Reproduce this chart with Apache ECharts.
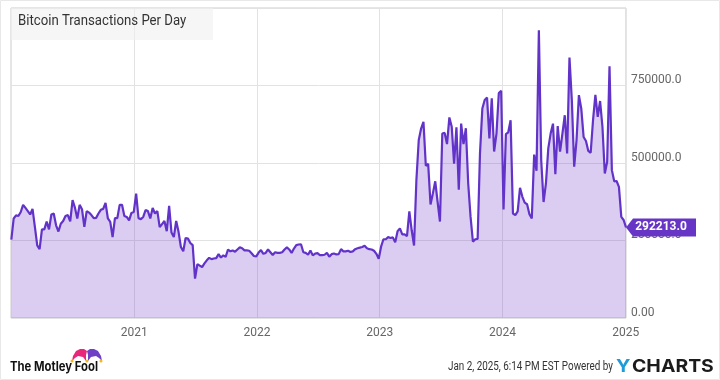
<!DOCTYPE html>
<html>
<head>
<meta charset="utf-8">
<title>Bitcoin Transactions Per Day</title>
<script src="https://cdn.jsdelivr.net/npm/echarts@6/dist/echarts.min.js"></script>
<style>
html, body { margin: 0; padding: 0; background: #fff; }
#chart { width: 720px; height: 380px; }
</style>
</head>
<body>
<div id="chart"></div>
<script>
// weekly readings, first one on 2020-01-02, last on 2025-01-02
const startDate = '2020-01-02'
const values2020 = [253000, 321000, 331000, 329000, 342000, 365000, 355000, 345000, 334000, 352000,
  294000, 234000, 222000, 286000, 286000, 311000, 286000, 334000, 337000, 299000,
  279000, 304000, 313000, 329000, 332000, 312000, 380000, 356000, 321000, 365000,
  351000, 294000, 345000, 340000, 332000, 322000, 323000, 337000, 349000, 352000,
  371000, 321000, 310000, 261000, 322000, 322000, 365000, 365000, 329000, 326000,
  315000, 339000, 342000]
const values2021 = [401000, 322000, 319000, 326000, 348000, 345000, 321000,
  355000, 337000, 345000, 293000, 303000, 313000, 280000, 362000, 276000, 261000,
  313000, 278000, 229000, 215000, 258000, 256000, 242000, 235000, 127000, 174000,
  169000, 164000, 176000, 186000, 194000, 190000, 192000, 193000, 206000, 195000,
  202000, 197000, 221000, 215000, 218000, 214000, 221000, 228000]
const values2022 = [225000, 218000, 218000, 217000, 209000, 200000, 199000, 211000, 219000, 207000,
  210000, 221000, 212000, 203000, 212000, 210000, 210000, 212000, 221000, 228000,
  221000, 210000, 224000, 235000, 237000, 238000, 212000, 210000, 204000, 218000,
  202000, 208000, 209000, 203000, 203000, 204000, 210000, 198000, 206000, 208000,
  205000, 206000, 222000, 215000, 215000, 217000, 213000, 215000, 222000, 225000,
  227000, 229000, 233000, 225000, 222000, 221000, 217000, 207000, 191000]
const values2023 = [230000, 254000, 254000, 261000, 258000, 260000, 244000, 280000, 289000, 270000,
  270000, 264000, 344000, 283000, 234000, 445000, 574000, 611000, 633000, 491000,
  497000, 366000, 402000, 441000, 375000, 311000, 595000, 597000, 561000, 647000,
  617000, 498000, 615000, 414000, 627000, 561000, 612000, 434000, 326000, 246000,
  254000, 255000, 531000, 676000, 703000, 711000, 579000, 709000, 537000, 595000, 726000]
const values2024 = [733000, 350000, 593000, 599000, 638000, 337000, 332000, 344000, 420000, 391000,
  372000, 367000, 335000, 321000, 527000, 475000, 928000, 509000, 374000, 434000,
  547000, 595000, 627000, 464000, 619000, 537000, 595000, 654000, 531000, 840000,
  703000, 488000, 574000, 719000, 676000, 584000, 571000, 539000, 533000, 638000,
  720000, 649000, 700000, 617000, 466000, 504000, 812000, 477000, 441000, 442000,
  423000, 326000, 316000, 292213]
const yearTicks = ['2021-01-01', '2022-01-01', '2023-01-01', '2024-01-01', '2025-01-01']
const valueTicks = [0, 250000, 500000, 750000, 1000000]

const values = [...values2020, ...values2021, ...values2022, ...values2023, ...values2024]

const toTime = d => new Date(d + 'T00:00:00Z').getTime()

// 每周一个点
const seriesData = values.map((v, i) => [toTime(startDate) + i * 7 * 86400000, v])
const last = seriesData[seriesData.length - 1]
const yearTimes = yearTicks.map(toTime)

const myChart = echarts.init(document.getElementById('chart'))

const options = {
  animation: false,
  grid: {
    left: 11,
    right: 94,
    top: 8,
    bottom: 62,
    show: true,
    borderColor: '#cccccc',
    borderWidth: 1
  },
  xAxis: {
    type: 'value',
    min: toTime('2020-01-01'),
    max: last[0],
    axisLine: { show: false },
    axisTick: { show: false, customValues: yearTimes },
    axisLabel: {
      customValues: yearTimes,
      formatter: value => String(new Date(value).getUTCFullYear()),
      hideOverlap: false,
      showMinLabel: true,
      showMaxLabel: true,
      color: '#666666',
      fontFamily: 'Roboto',
      fontSize: 12,
      margin: 9
    },
    splitLine: { show: true, lineStyle: { color: '#e2e2e2', width: 1 } }
  },
  yAxis: {
    type: 'value',
    position: 'right',
    min: 0,
    max: valueTicks[valueTicks.length - 1],
    interval: valueTicks[1],
    axisLine: { show: false },
    axisTick: { show: false },
    axisLabel: {
      formatter: value => {
        if (value === 0) return '0.00'
        if (value >= 1000000) return ''
        return value.toFixed(1)
      },
      color: '#666666',
      fontFamily: 'Roboto',
      fontSize: 12,
      margin: 5,
      verticalAlign: 'bottom',
      lineHeight: 11
    },
    splitLine: { show: true, lineStyle: { color: '#e2e2e2', width: 1 } }
  },
  series: [
    {
      type: 'line',
      data: seriesData,
      showSymbol: false,
      clip: false,
      lineStyle: { color: '#6233c8', width: 2.2 },
      areaStyle: { color: '#6a30c8', opacity: 0.24 },
      z: 3,
      markPoint: {
        silent: true,
        animation: false,
        symbol: 'path://M0 9L7 0H70V18H7Z',
        symbolSize: [70, 18],
        symbolOffset: [35, 0],
        itemStyle: { color: '#6635c6' },
        label: {
          show: true,
          position: 'inside',
          offset: [0, 0],
          formatter: p => p.value.toFixed(1),
          color: '#ffffff',
          fontFamily: 'Roboto',
          fontWeight: 'bold',
          fontSize: 12
        },
        data: [{ coord: last, value: last[1] }]
      }
    }
  ],
  graphic: [
    // 外框
    { type: 'rect', silent: true, shape: { x: 0.5, y: 0.5, width: 719, height: 379 }, style: { fill: 'none', stroke: '#e8e8e8', lineWidth: 1 }, z: 0 },
    // 标题
    { type: 'rect', silent: true, shape: { x: 11, y: 8, width: 202, height: 32 }, style: { fill: 'rgba(240,240,240,0.6)' }, z: 10 },
    { type: 'text', silent: true, x: 18, y: 21.5, scaleX: 0.88, style: { text: 'Bitcoin Transactions Per Day', fill: '#333333', font: '15px Roboto', textVerticalAlign: 'middle' }, z: 11 },
    // Motley Fool
    { type: 'text', silent: true, x: 10, y: 367, scaleX: 0.87, style: { text: 'The Motley Fool', fill: '#111111', font: 'bold 13px Inter', textVerticalAlign: 'middle' }, z: 11 },
    { type: 'polygon', silent: true, shape: { points: [[72, 361], [73, 356], [76, 351], [80, 349], [84, 349], [87, 351], [86, 355], [86, 361], [83, 357], [78, 356], [75, 358]] }, style: { fill: '#e8277b' }, z: 11 },
    { type: 'polygon', silent: true, shape: { points: [[102, 361], [101, 356], [98, 351], [94, 349], [90, 349], [87, 351], [88, 355], [88, 361], [91, 357], [96, 356], [99, 358]] }, style: { fill: '#6f3fc6' }, z: 11 },
    { type: 'circle', silent: true, shape: { cx: 72, cy: 361, r: 1.5 }, style: { fill: '#f4b71f' }, z: 11 },
    { type: 'circle', silent: true, shape: { cx: 87, cy: 361, r: 1.5 }, style: { fill: '#f4b71f' }, z: 11 },
    { type: 'circle', silent: true, shape: { cx: 101, cy: 361, r: 1.5 }, style: { fill: '#f4b71f' }, z: 11 },
    // 页脚
    { type: 'text', silent: true, x: 613, y: 367, scaleX: 0.79, style: { text: 'Jan 2, 2025, 6:14 PM EST Powered by', fill: '#333333', font: '12.5px Roboto', textAlign: 'right', textVerticalAlign: 'middle' }, z: 11 },
    { type: 'text', silent: true, x: 616, y: 367, scaleX: 1.1, style: { text: 'Y', fill: '#1f9bd7', font: 'bold 18px Inter', textVerticalAlign: 'middle' }, z: 11 },
    { type: 'text', silent: true, x: 632, y: 367, scaleX: 1.11, style: { text: 'CHARTS', fill: '#1b1b1b', font: 'bold 17.5px Inter', textVerticalAlign: 'middle' }, z: 11 }
  ]
}
myChart.setOption(options)
</script>
</body>
</html>
